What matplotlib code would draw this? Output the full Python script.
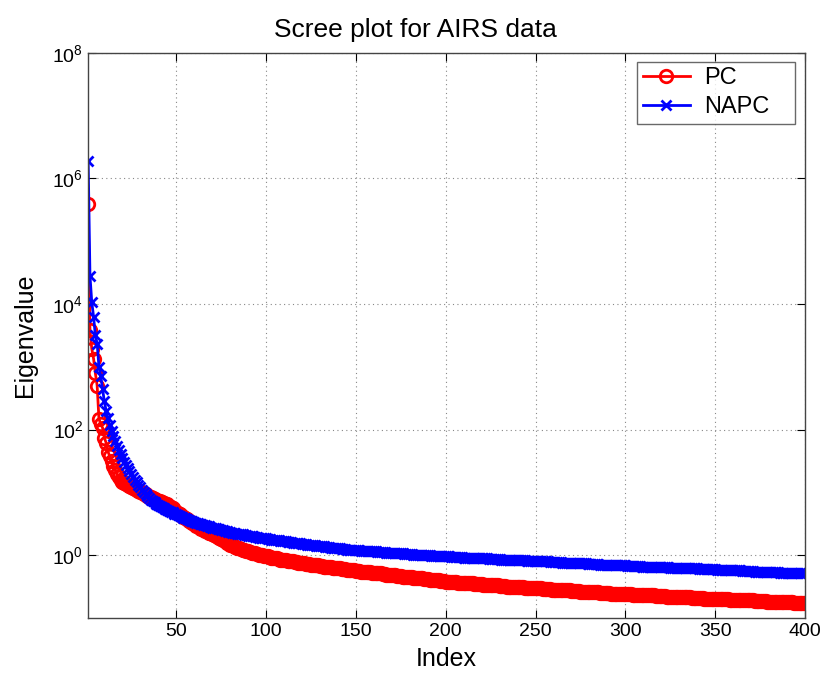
import numpy as np
import matplotlib
matplotlib.use("Agg")
import matplotlib.pyplot as plt
from matplotlib.ticker import FixedLocator, LogFormatterSciNotation, NullLocator

plt.rcParams['font.family'] = ['Liberation Sans', 'DejaVu Sans']

title = "Scree plot for AIRS data"
xlabel = "Index"
ylabel = "Eigenvalue"
series_names = ["PC", "NAPC"]
x_ticks = [50, 100, 150, 200, 250, 300, 350, 400]
y_ticks = [1e0, 1e2, 1e4, 1e6, 1e8]

# log10 of eigenvalues, index 1..400
pc_log10 = [
    5.59, 3.58, 3.29, 3.13, 2.90, 2.70, 2.17, 2.09, 2.03, 1.87,
    1.79, 1.65, 1.58, 1.50, 1.42, 1.36, 1.30, 1.24, 1.20, 1.17,
    1.15, 1.13, 1.11, 1.10, 1.08, 1.07, 1.05, 1.04, 1.02, 1.01,
    1.00, 0.98, 0.97, 0.95, 0.93, 0.92, 0.91, 0.89, 0.88, 0.87,
    0.86, 0.85, 0.83, 0.82, 0.81, 0.79, 0.77, 0.75, 0.72, 0.69,
    0.67, 0.65, 0.63, 0.61, 0.59, 0.57, 0.55, 0.53, 0.51, 0.49,
    0.47, 0.46, 0.44, 0.42, 0.41, 0.39, 0.38, 0.36, 0.35, 0.33,
    0.32, 0.30, 0.29, 0.27, 0.26, 0.24, 0.22, 0.20, 0.19, 0.17,
    0.16, 0.15, 0.13, 0.12, 0.11, 0.10, 0.09, 0.08, 0.07, 0.06,
    0.05, 0.04, 0.04, 0.03, 0.02, 0.01, 0.01, 0.00, -0.01, -0.02,
    -0.02, -0.03, -0.04, -0.04, -0.05, -0.05, -0.06, -0.07, -0.07, -0.08,
    -0.08, -0.09, -0.09, -0.10, -0.10, -0.11, -0.11, -0.12, -0.12, -0.13,
    -0.13, -0.14, -0.14, -0.14, -0.15, -0.15, -0.16, -0.16, -0.16, -0.17,
    -0.17, -0.18, -0.18, -0.18, -0.19, -0.19, -0.20, -0.20, -0.20, -0.21,
    -0.21, -0.22, -0.22, -0.22, -0.23, -0.23, -0.24, -0.24, -0.24, -0.25,
    -0.25, -0.25, -0.26, -0.26, -0.26, -0.27, -0.27, -0.27, -0.28, -0.28,
    -0.28, -0.29, -0.29, -0.29, -0.30, -0.30, -0.31, -0.31, -0.31, -0.32,
    -0.32, -0.32, -0.33, -0.33, -0.33, -0.34, -0.34, -0.34, -0.35, -0.35,
    -0.35, -0.36, -0.36, -0.36, -0.37, -0.37, -0.37, -0.38, -0.38, -0.38,
    -0.39, -0.39, -0.39, -0.40, -0.40, -0.40, -0.41, -0.41, -0.41, -0.42,
    -0.42, -0.42, -0.43, -0.43, -0.43, -0.43, -0.44, -0.44, -0.44, -0.44,
    -0.44, -0.45, -0.45, -0.45, -0.45, -0.46, -0.46, -0.46, -0.46, -0.46,
    -0.47, -0.47, -0.47, -0.47, -0.48, -0.48, -0.48, -0.48, -0.48, -0.49,
    -0.49, -0.49, -0.49, -0.50, -0.50, -0.50, -0.50, -0.50, -0.51, -0.51,
    -0.51, -0.51, -0.51, -0.52, -0.52, -0.52, -0.52, -0.52, -0.53, -0.53,
    -0.53, -0.53, -0.53, -0.54, -0.54, -0.54, -0.54, -0.54, -0.55, -0.55,
    -0.55, -0.55, -0.55, -0.55, -0.56, -0.56, -0.56, -0.56, -0.56, -0.57,
    -0.57, -0.57, -0.57, -0.57, -0.58, -0.58, -0.58, -0.58, -0.58, -0.58,
    -0.59, -0.59, -0.59, -0.59, -0.59, -0.60, -0.60, -0.60, -0.60, -0.60,
    -0.60, -0.61, -0.61, -0.61, -0.61, -0.61, -0.61, -0.62, -0.62, -0.62,
    -0.62, -0.62, -0.62, -0.63, -0.63, -0.63, -0.63, -0.63, -0.63, -0.64,
    -0.64, -0.64, -0.64, -0.64, -0.64, -0.64, -0.65, -0.65, -0.65, -0.65,
    -0.65, -0.65, -0.66, -0.66, -0.66, -0.66, -0.66, -0.66, -0.66, -0.67,
    -0.67, -0.67, -0.67, -0.67, -0.67, -0.67, -0.68, -0.68, -0.68, -0.68,
    -0.68, -0.68, -0.68, -0.69, -0.69, -0.69, -0.69, -0.69, -0.69, -0.69,
    -0.70, -0.70, -0.70, -0.70, -0.70, -0.70, -0.70, -0.71, -0.71, -0.71,
    -0.71, -0.71, -0.71, -0.71, -0.72, -0.72, -0.72, -0.72, -0.72, -0.72,
    -0.72, -0.73, -0.73, -0.73, -0.73, -0.73, -0.73, -0.73, -0.74, -0.74,
    -0.74, -0.74, -0.74, -0.74, -0.74, -0.75, -0.75, -0.75, -0.75, -0.75,
    -0.75, -0.75, -0.75, -0.76, -0.76, -0.76, -0.76, -0.76, -0.76, -0.76,
]

napc_log10 = [
    6.28, 4.45, 4.03, 3.80, 3.50, 3.37, 3.00, 2.85, 2.65, 2.45,
    2.30, 2.18, 2.07, 1.98, 1.90, 1.82, 1.74, 1.67, 1.61, 1.55,
    1.49, 1.44, 1.39, 1.34, 1.29, 1.24, 1.20, 1.16, 1.12, 1.08,
    1.04, 1.00, 0.97, 0.94, 0.91, 0.88, 0.86, 0.84, 0.82, 0.80,
    0.78, 0.77, 0.75, 0.74, 0.72, 0.71, 0.69, 0.68, 0.66, 0.65,
    0.64, 0.62, 0.61, 0.60, 0.59, 0.58, 0.56, 0.55, 0.54, 0.53,
    0.52, 0.51, 0.50, 0.49, 0.48, 0.48, 0.47, 0.46, 0.45, 0.44,
    0.43, 0.43, 0.42, 0.41, 0.40, 0.40, 0.39, 0.38, 0.37, 0.37,
    0.36, 0.36, 0.35, 0.34, 0.34, 0.33, 0.33, 0.32, 0.32, 0.31,
    0.31, 0.30, 0.30, 0.29, 0.29, 0.28, 0.28, 0.28, 0.27, 0.27,
    0.26, 0.26, 0.25, 0.25, 0.24, 0.24, 0.24, 0.23, 0.23, 0.22,
    0.22, 0.21, 0.21, 0.21, 0.20, 0.20, 0.19, 0.19, 0.19, 0.18,
    0.18, 0.18, 0.17, 0.17, 0.16, 0.16, 0.16, 0.15, 0.15, 0.14,
    0.14, 0.14, 0.13, 0.13, 0.13, 0.12, 0.12, 0.12, 0.11, 0.11,
    0.11, 0.10, 0.10, 0.10, 0.09, 0.09, 0.09, 0.09, 0.08, 0.08,
    0.08, 0.08, 0.07, 0.07, 0.07, 0.07, 0.06, 0.06, 0.06, 0.06,
    0.06, 0.05, 0.05, 0.05, 0.05, 0.05, 0.04, 0.04, 0.04, 0.04,
    0.04, 0.03, 0.03, 0.03, 0.03, 0.03, 0.02, 0.02, 0.02, 0.02,
    0.02, 0.01, 0.01, 0.01, 0.01, 0.01, 0.00, 0.00, 0.00, 0.00,
    0.00, -0.01, -0.01, -0.01, -0.01, -0.01, -0.02, -0.02, -0.02, -0.02,
    -0.02, -0.02, -0.03, -0.03, -0.03, -0.03, -0.03, -0.03, -0.03, -0.04,
    -0.04, -0.04, -0.04, -0.04, -0.04, -0.04, -0.05, -0.05, -0.05, -0.05,
    -0.05, -0.05, -0.05, -0.06, -0.06, -0.06, -0.06, -0.06, -0.06, -0.06,
    -0.07, -0.07, -0.07, -0.07, -0.07, -0.07, -0.07, -0.08, -0.08, -0.08,
    -0.08, -0.08, -0.08, -0.08, -0.09, -0.09, -0.09, -0.09, -0.09, -0.09,
    -0.10, -0.10, -0.10, -0.10, -0.10, -0.10, -0.10, -0.11, -0.11, -0.11,
    -0.11, -0.11, -0.11, -0.11, -0.12, -0.12, -0.12, -0.12, -0.12, -0.12,
    -0.12, -0.13, -0.13, -0.13, -0.13, -0.13, -0.13, -0.13, -0.14, -0.14,
    -0.14, -0.14, -0.14, -0.14, -0.14, -0.15, -0.15, -0.15, -0.15, -0.15,
    -0.15, -0.15, -0.15, -0.16, -0.16, -0.16, -0.16, -0.16, -0.16, -0.16,
    -0.17, -0.17, -0.17, -0.17, -0.17, -0.17, -0.17, -0.17, -0.18, -0.18,
    -0.18, -0.18, -0.18, -0.18, -0.18, -0.18, -0.19, -0.19, -0.19, -0.19,
    -0.19, -0.19, -0.19, -0.19, -0.20, -0.20, -0.20, -0.20, -0.20, -0.20,
    -0.20, -0.20, -0.21, -0.21, -0.21, -0.21, -0.21, -0.21, -0.21, -0.21,
    -0.22, -0.22, -0.22, -0.22, -0.22, -0.22, -0.22, -0.22, -0.22, -0.22,
    -0.23, -0.23, -0.23, -0.23, -0.23, -0.23, -0.23, -0.24, -0.24, -0.24,
    -0.24, -0.24, -0.24, -0.24, -0.25, -0.25, -0.25, -0.25, -0.25, -0.25,
    -0.25, -0.26, -0.26, -0.26, -0.26, -0.26, -0.26, -0.26, -0.27, -0.27,
    -0.27, -0.27, -0.27, -0.27, -0.27, -0.28, -0.28, -0.28, -0.28, -0.28,
    -0.28, -0.28, -0.28, -0.29, -0.29, -0.29, -0.29, -0.29, -0.29, -0.29,
]

pc_vals = np.power(10.0, np.array(pc_log10))
napc_vals = np.power(10.0, np.array(napc_log10))
index = np.arange(1, len(pc_vals) + 1)

fig = plt.figure(figsize=(8.24, 6.81), dpi=100)
ax = fig.add_axes([0.107, 0.0925, 0.870, 0.830])

ax.semilogy(index, pc_vals, color='#ff0000', lw=2, marker='o', ms=9,
            mfc='none', mec='#ff0000', mew=2.0, label=series_names[0])
ax.semilogy(index, napc_vals, color='#0000ff', lw=2, marker='x', ms=6.5,
            mew=2.0, label=series_names[1])

ax.set_xlim(1, 400)
ax.set_ylim(1e-1, 1e8)
ax.xaxis.set_major_locator(FixedLocator(x_ticks))
ax.yaxis.set_major_locator(FixedLocator(y_ticks))
ax.yaxis.set_major_formatter(LogFormatterSciNotation())
ax.yaxis.set_minor_locator(NullLocator())
ax.xaxis.set_minor_locator(NullLocator())

ax.grid(True, which='major', linestyle=(0, (1, 3)), color='#888888', lw=0.8)
ax.tick_params(axis='both', which='major', direction='in', length=6,
               top=True, right=True, labelsize=14, colors='black', width=0.8)
for s in ax.spines.values():
    s.set_color('#444444')
    s.set_linewidth(1.0)

fig.text(415 / 824, 1 - 30 / 681, title, fontsize=19, ha='center', va='center')
ax.set_xlabel(xlabel, fontsize=18)
ax.set_ylabel(ylabel, fontsize=18)
ax.xaxis.set_label_coords(0.5, -0.052)
ax.yaxis.set_label_coords(-0.071, 0.5)

leg = ax.legend(loc='upper left', bbox_to_anchor=(0.7657, 0.5, 0.2204, 0.484),
                mode='expand', fontsize=17,
                frameon=True, fancybox=False, edgecolor='#444444',
                handlelength=2.0, borderpad=0.24, labelspacing=0.27,
                handletextpad=0.6, borderaxespad=0.0)
leg.get_frame().set_linewidth(1.0)

fig.savefig("out.png", dpi=100, facecolor='white')
